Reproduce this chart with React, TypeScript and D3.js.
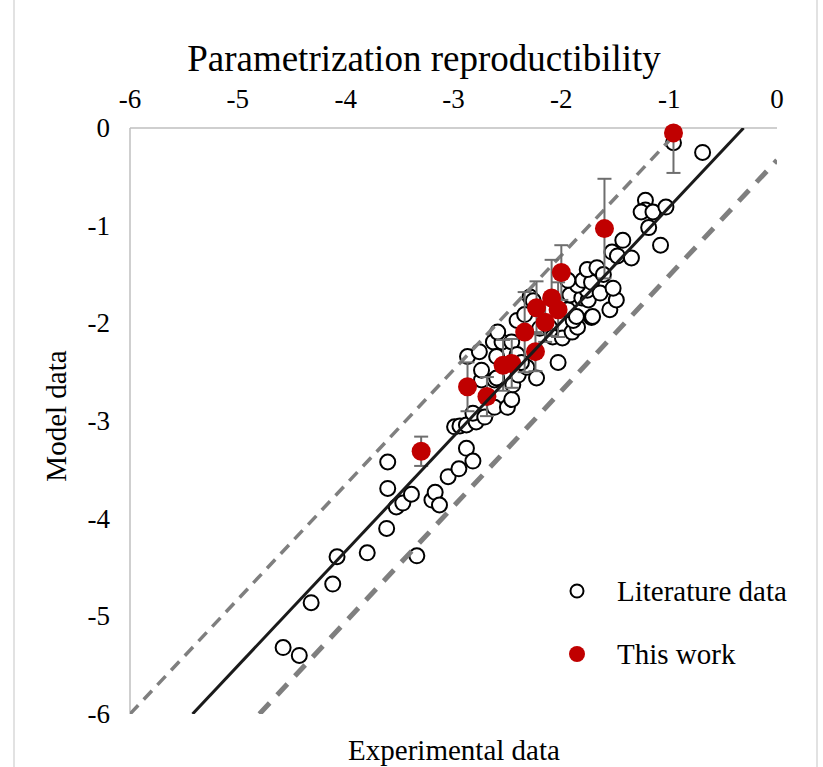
import React from "react";
import * as d3 from "d3";

// literature data (experimental, model)
const literatureX = [
  -4.58, -4.43, -4.32, -4.12, -4.08, -3.8, -3.34, -3.62, -3.61, -3.61, -3.53, -3.47, -3.39, -3.2, -3.17,
  -3.13, -3.05, -2.95, -2.88, -2.82, -2.99, -2.94, -2.88, -2.79, -2.82, -2.71, -2.62, -2.74, -2.62, -2.5,
  -2.46, -2.87, -2.76, -2.74, -2.63, -2.55, -2.59, -2.46, -2.6, -2.41, -2.6, -2.45, -2.4, -2.32, -2.23,
  -2.37, -2.03, -2.41, -2.34, -2.29, -2.26, -2.2, -2.11, -2.08, -1.99, -1.9, -1.85, -1.89, -1.72, -1.94,
  -1.92, -1.81, -1.75, -1.76, -1.85, -1.8, -1.72, -1.76, -1.67, -1.61, -1.64, -1.55, -1.49, -1.52, -1.71,
  -1.86, -1.94, -1.53, -1.48, -1.43, -1.35, -1.22, -1.22, -1.26, -1.15, -1.03, -1.19, -1.08, -0.96, -0.69,
];
const literatureY = [
  -5.32, -5.4, -4.86, -4.67, -4.39, -4.35, -4.38, -4.1, -3.69, -3.42, -3.88, -3.84, -3.75, -3.81, -3.73,
  -3.86, -3.57, -3.49, -3.28, -3.41, -3.06, -3.05, -3.04, -3.01, -2.92, -2.96, -2.86, -2.58, -2.58, -2.86,
  -2.78, -2.34, -2.29, -2.48, -2.19, -2.19, -2.09, -2.19, -2.34, -2.32, -2.56, -2.63, -2.53, -2.45, -2.56,
  -2.4, -2.4, -1.97, -1.91, -1.73, -1.77, -2.05, -2.04, -2.14, -2.15, -2.09, -2.04, -1.97, -1.94, -1.86,
  -1.71, -1.74, -1.76, -1.66, -1.61, -1.56, -1.58, -1.45, -1.43, -1.5, -1.69, -1.86, -1.76, -1.64, -1.93,
  -1.93, -1.56, -1.27, -1.31, -1.15, -1.33, -0.74, -0.84, -0.86, -0.86, -0.81, -1.02, -1.2, -0.15, -0.25,
];

// this work, with error on the model value
const workX = [-0.96, -1.6, -2.0, -2.09, -2.03, -2.23, -2.15, -2.34, -2.24, -2.54, -2.46, -2.87, -2.69, -3.3];
const workY = [-0.05, -1.03, -1.48, -1.74, -1.86, -1.84, -1.99, -2.09, -2.29, -2.43, -2.41, -2.65, -2.75, -3.31];
const workErr = [0.41, 0.51, 0.28, 0.39, 0.28, 0.27, 0.2, 0.41, 0.2, 0.26, 0.25, 0.25, 0.2, 0.15];

// reference lines (endpoints)
const fitLine: [number, number][] = [[-5.42, -6], [-0.31, 0]];
const upperLine: [number, number][] = [[-6, -6], [-0.89, 0]];
const lowerLine: [number, number][] = [[-4.8, -6], [0, -0.33]];

const xTicks = [-6, -5, -4, -3, -2, -1, 0];
const yTicks = [0, -1, -2, -3, -4, -5, -6];

const font = "'Liberation Serif', 'Times New Roman', serif";

const App: React.FC = () => {
  const width = 823;
  const height = 767;
  const plot = { left: 130, right: 777, top: 128, bottom: 714 };

  const x = d3.scaleLinear().domain([-6, 0]).range([plot.left, plot.right]);
  const y = d3.scaleLinear().domain([-6, 0]).range([plot.bottom, plot.top]);
  const line = d3
    .line<[number, number]>()
    .x((d) => x(d[0]))
    .y((d) => y(d[1]));

  const lit = literatureX.map((v, i) => ({ x: v, y: literatureY[i] }));
  const work = workX.map((v, i) => ({ x: v, y: workY[i], e: workErr[i] }));

  return (
    <div style={{ position: "absolute", left: 0, top: 0 }}>
      <svg width={width} height={height} style={{ display: "block" }}>
        <defs>
          <clipPath id="plotClip">
            <rect x={plot.left} y={plot.top} width={plot.right - plot.left} height={plot.bottom - plot.top} />
          </clipPath>
        </defs>
        <rect x={0} y={0} width={width} height={height} fill="#fff" />
        <rect x={14} y={-2} width={803} height={height + 4} fill="none" stroke="#d9d9d9" strokeWidth={1.5} />

        <text x={424} y={71} textAnchor="middle" fontFamily={font} fontSize={37} fill="#000">
          Parametrization reproductibility
        </text>

        {/* axes lines */}
        <line x1={plot.left} x2={plot.right} y1={y(0)} y2={y(0)} stroke="#bfbfbf" strokeWidth={1.5} />
        <line x1={x(-6)} x2={x(-6)} y1={plot.top} y2={plot.bottom} stroke="#bfbfbf" strokeWidth={1.5} />

        {xTicks.map((t) => (
          <text key={"x" + t} x={x(t)} y={108} textAnchor="middle" fontFamily={font} fontSize={27} fill="#000">
            {t}
          </text>
        ))}
        {yTicks.map((t) => (
          <text key={"y" + t} x={110} y={y(t) + 9} textAnchor="end" fontFamily={font} fontSize={27} fill="#000">
            {t}
          </text>
        ))}

        <text
          transform="translate(66,416) rotate(-90)"
          textAnchor="middle"
          fontFamily={font}
          fontSize={29}
          fill="#000"
        >
          Model data
        </text>
        <text x={454} y={760} textAnchor="middle" fontFamily={font} fontSize={29} fill="#000">
          Experimental data
        </text>

        {/* literature points */}
        {lit.map((d, i) => (
          <circle key={"l" + i} cx={x(d.x)} cy={y(d.y)} r={7.5} fill="#fff" stroke="#000" strokeWidth={2} />
        ))}

        <g clipPath="url(#plotClip)">
          <path d={line(upperLine) || ""} fill="none" stroke="#7f7f7f" strokeWidth={3.5} strokeDasharray="12 8" />
          <path d={line(lowerLine) || ""} fill="none" stroke="#7f7f7f" strokeWidth={5} strokeDasharray="15 11" />
          {work.map((d, i) => (
            <g key={"e" + i} stroke="#6e6e6e" strokeWidth={2}>
              <line x1={x(d.x)} x2={x(d.x)} y1={y(d.y - d.e)} y2={y(d.y + d.e)} />
              <line x1={x(d.x) - 7} x2={x(d.x) + 7} y1={y(d.y - d.e)} y2={y(d.y - d.e)} />
              <line x1={x(d.x) - 7} x2={x(d.x) + 7} y1={y(d.y + d.e)} y2={y(d.y + d.e)} />
            </g>
          ))}
        </g>

        {work.map((d, i) => (
          <circle key={"w" + i} cx={x(d.x)} cy={y(d.y)} r={9.5} fill="#c00000" />
        ))}

        <g clipPath="url(#plotClip)">
          <path d={line(fitLine) || ""} fill="none" stroke="#1a1a1a" strokeWidth={3} />
        </g>

        {/* legend */}
        <circle cx={577} cy={591} r={6.5} fill="#fff" stroke="#000" strokeWidth={2} />
        <text x={617} y={601} fontFamily={font} fontSize={29} fill="#000">
          Literature data
        </text>
        <circle cx={577} cy={654} r={8} fill="#c00000" />
        <text x={617} y={664} fontFamily={font} fontSize={29} fill="#000">
          This work
        </text>
      </svg>
    </div>
  );
};

export default App;
